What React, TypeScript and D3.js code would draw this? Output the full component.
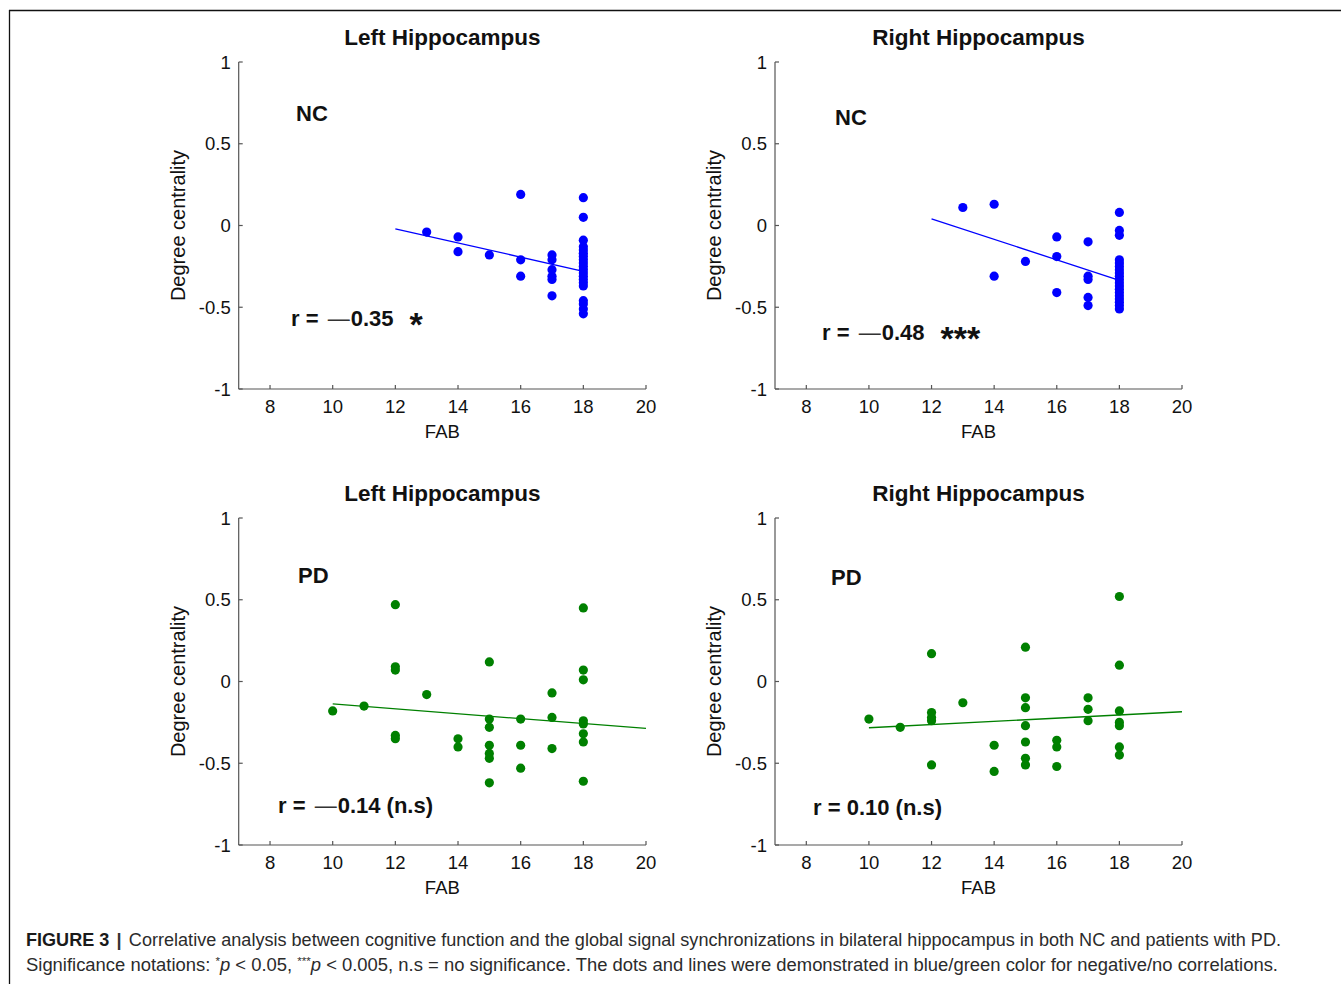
import React from "react";
import * as d3 from "d3";

// ---------- data ----------
const xTicks = [8, 10, 12, 14, 16, 18, 20];
const yTicks = [-1, -0.5, 0, 0.5, 1];

const ncLeftFAB = [13, 14, 14, 15, 16, 16, 16, 17, 17, 17, 17, 17, 17,
  18, 18, 18, 18, 18, 18, 18, 18, 18, 18, 18, 18, 18, 18, 18, 18, 18, 18, 18, 18];
const ncLeftDC = [-0.04, -0.07, -0.16, -0.18, 0.19, -0.21, -0.31, -0.18, -0.21, -0.27, -0.31, -0.33, -0.43,
  0.17, 0.05, -0.09, -0.13, -0.15, -0.17, -0.19, -0.21, -0.23, -0.25, -0.27, -0.29, -0.31, -0.33, -0.35, -0.37, -0.46, -0.48, -0.51, -0.54];
const ncLeftFit = [[12, -0.02], [18, -0.28]];

const ncRightFAB = [13, 14, 14, 15, 16, 16, 16, 17, 17, 17, 17, 17,
  18, 18, 18, 18, 18, 18, 18, 18, 18, 18, 18, 18, 18, 18, 18, 18, 18, 18, 18];
const ncRightDC = [0.11, 0.13, -0.31, -0.22, -0.07, -0.19, -0.41, -0.10, -0.31, -0.33, -0.44, -0.49,
  0.08, -0.03, -0.06, -0.21, -0.23, -0.25, -0.27, -0.29, -0.31, -0.33, -0.35, -0.37, -0.39, -0.41, -0.43, -0.45, -0.47, -0.49, -0.51];
const ncRightFit = [[12, 0.04], [18, -0.335]];

const pdLeftFAB = [10, 11, 12, 12, 12, 12, 12, 13, 14, 14, 15, 15, 15, 15, 15, 15, 15,
  16, 16, 16, 17, 17, 17, 18, 18, 18, 18, 18, 18, 18, 18];
const pdLeftDC = [-0.18, -0.15, 0.47, 0.09, 0.07, -0.33, -0.35, -0.08, -0.35, -0.40, 0.12, -0.23, -0.28, -0.39, -0.44, -0.47, -0.62,
  -0.23, -0.39, -0.53, -0.07, -0.22, -0.41, 0.45, 0.07, 0.01, -0.24, -0.26, -0.32, -0.37, -0.61];
const pdLeftFit = [[10, -0.137], [20, -0.287]];

const pdRightFAB = [10, 11, 12, 12, 12, 12, 12, 13, 14, 14, 15, 15, 15, 15, 15, 15, 15,
  16, 16, 16, 17, 17, 17, 18, 18, 18, 18, 18, 18, 18];
const pdRightDC = [-0.23, -0.28, 0.17, -0.19, -0.22, -0.24, -0.51, -0.13, -0.39, -0.55, 0.21, -0.10, -0.16, -0.27, -0.37, -0.47, -0.51,
  -0.36, -0.40, -0.52, -0.10, -0.17, -0.24, 0.52, 0.10, -0.18, -0.25, -0.27, -0.40, -0.45];
const pdRightFit = [[10, -0.283], [20, -0.185]];

// ---------- layout ----------
const FONT = "'Liberation Sans', Arial, Helvetica, sans-serif";
const BLUE = "#0000ff";
const GREEN = "#008000";

const panels: any[] = [
  { title: "Left Hippocampus", group: "NC", r: "r = ", rr: "0.35", sig: "*", neg: true,
    xs: ncLeftFAB, ys: ncLeftDC, fit: ncLeftFit, color: BLUE,
    x0: 238.7, x1: 646, yTop: 62, yBot: 389, titleY: 45, groupPos: [296, 121], rPos: [291, 326] },
  { title: "Right Hippocampus", group: "NC", r: "r = ", rr: "0.48", sig: "***", neg: true,
    xs: ncRightFAB, ys: ncRightDC, fit: ncRightFit, color: BLUE,
    x0: 775, x1: 1182, yTop: 62, yBot: 389, titleY: 45, groupPos: [835, 125], rPos: [822, 340] },
  { title: "Left Hippocampus", group: "PD", r: "r = ", rr: "0.14 (n.s)", sig: "", neg: true,
    xs: pdLeftFAB, ys: pdLeftDC, fit: pdLeftFit, color: GREEN,
    x0: 238.7, x1: 646, yTop: 518, yBot: 845, titleY: 501, groupPos: [298, 583], rPos: [278, 813] },
  { title: "Right Hippocampus", group: "PD", r: "r = ", rr: "0.10 (n.s)", sig: "", neg: false,
    xs: pdRightFAB, ys: pdRightDC, fit: pdRightFit, color: GREEN,
    x0: 775, x1: 1182, yTop: 518, yBot: 845, titleY: 501, groupPos: [831, 585], rPos: [813, 815] },
];

const AXIS = "#555555";

function PanelView({ p }: { p: any }) {
  const x = d3.scaleLinear().domain([7, 20]).range([p.x0, p.x1]);
  const y = d3.scaleLinear().domain([-1, 1]).range([p.yBot, p.yTop]);
  const line = d3.line<number[]>().x((d) => x(d[0])).y((d) => y(d[1]));
  const cx = (p.x0 + p.x1) / 2;
  const cy = (p.yTop + p.yBot) / 2;
  return (
    <g fontFamily={FONT}>
      <text x={cx} y={p.titleY} textAnchor="middle" fontSize={22.5} fontWeight="bold" fill="#111">{p.title}</text>
      {/* axes */}
      <line x1={x(7)} x2={x(7)} y1={y(1)} y2={y(-1)} stroke={AXIS} strokeWidth={1.2} />
      <line x1={x(7)} x2={x(20)} y1={y(-1)} y2={y(-1)} stroke={AXIS} strokeWidth={1.2} />
      {yTicks.map((t) => (
        <g key={"y" + t}>
          <line x1={x(7)} x2={x(7) + 4} y1={y(t)} y2={y(t)} stroke={AXIS} strokeWidth={1.2} />
          <text x={x(7) - 8} y={y(t) + 6.5} textAnchor="end" fontSize={18.5} fill="#111">{t}</text>
        </g>
      ))}
      {xTicks.map((t) => (
        <g key={"x" + t}>
          <line x1={x(t)} x2={x(t)} y1={y(-1)} y2={y(-1) - 4} stroke={AXIS} strokeWidth={1.2} />
          <text x={x(t)} y={y(-1) + 24} textAnchor="middle" fontSize={18.5} fill="#111">{t}</text>
        </g>
      ))}
      <text x={cx} y={y(-1) + 49} textAnchor="middle" fontSize={18.5} fill="#111">FAB</text>
      <text transform={`translate(${p.x0 - 54},${cy}) rotate(-90)`} textAnchor="middle" fontSize={20} fill="#111">Degree centrality</text>
      {/* fit line */}
      <path d={line(p.fit) || ""} stroke={p.color} strokeWidth={1.3} fill="none" />
      {/* points */}
      {p.xs.map((v: number, i: number) => (
        <circle key={i} cx={x(v)} cy={y(p.ys[i])} r={4.6} fill={p.color} />
      ))}
      <text x={p.groupPos[0]} y={p.groupPos[1]} fontSize={22} fontWeight="bold" fill="#111">{p.group}</text>
      <text x={p.rPos[0]} y={p.rPos[1]} fontSize={22} fontWeight="bold" fill="#111" xmlSpace="preserve">
        <tspan>{p.r}</tspan>
        {p.neg ? <tspan fontWeight="normal" fill="#333" dx={3}>—</tspan> : null}
        <tspan dx={p.neg ? 1 : 0}>{p.rr}</tspan>
        {p.sig ? <tspan fontSize={34} dx={16} dy={10}>{p.sig}</tspan> : null}
      </text>
    </g>
  );
}

export default function App() {
  return (
    <svg width={1341} height={984} style={{ position: "absolute", left: 0, top: 0, background: "#fff" }}>
      <rect x={0} y={0} width={1341} height={984} fill="#fff" />
      <line x1={9} x2={1341} y1={10.5} y2={10.5} stroke="#111" strokeWidth={1.3} />
      <line x1={9.5} x2={9.5} y1={10} y2={984} stroke="#111" strokeWidth={1.3} />
      {panels.map((p, i) => <PanelView key={i} p={p} />)}
      <g fontFamily={FONT} fontSize={17.5} fill="#2b2b2b">
        <text x={26} y={946} textLength={1255} lengthAdjust="spacingAndGlyphs">
          <tspan fontWeight="bold" fill="#1a1a1a">FIGURE 3</tspan>
          <tspan fill="#333" fontWeight="bold" dx={7}>|</tspan>
          <tspan dx={7}>Correlative analysis between cognitive function and the global signal synchronizations in bilateral hippocampus in both NC and patients with PD.</tspan>
        </text>
        <text x={26} y={971} textLength={1252} lengthAdjust="spacingAndGlyphs">
          <tspan>Significance notations: </tspan>
          <tspan fontSize={11} dy={-6}>*</tspan>
          <tspan fontStyle="italic" dy={6}>p</tspan>
          <tspan>{" < 0.05, "}</tspan>
          <tspan fontSize={11} dy={-6}>***</tspan>
          <tspan fontStyle="italic" dy={6}>p</tspan>
          <tspan>{" < 0.005, n.s = no significance. The dots and lines were demonstrated in blue/green color for negative/no correlations."}</tspan>
        </text>
      </g>
    </svg>
  );
}
